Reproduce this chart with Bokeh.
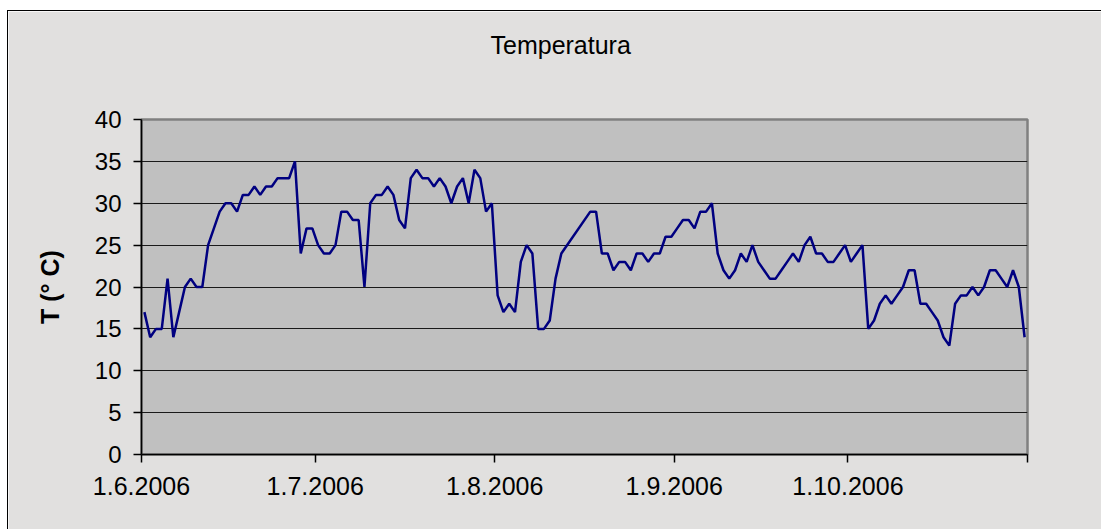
from bokeh.plotting import figure
from bokeh.models import FixedTicker, ColumnDataSource, Title
from bokeh.embed import file_html
from bokeh.resources import INLINE

# Day offset from 1.6.2006 for each reading, and the temperature (°C)
days = [0, 1, 2, 3, 4, 5, 6, 7, 8, 9, 10, 11, 12, 13, 14, 15, 16, 17, 18, 19,
        20, 21, 22, 23, 24, 25, 26, 27, 28, 29, 30, 31, 32, 33, 34, 35, 36, 37, 38, 39,
        40, 41, 42, 43, 44, 45, 46, 47, 48, 49, 50, 51, 52, 53, 54, 55, 56, 57, 58, 59,
        60, 61, 62, 63, 64, 65, 66, 67, 68, 69, 70, 71, 72, 77, 78, 79,
        80, 81, 82, 83, 84, 85, 86, 87, 88, 89, 90, 91, 92, 93, 94, 95, 96, 97, 98, 99,
        100, 101, 102, 103, 104, 105, 106, 107, 108, 109, 110, 111, 112, 113, 114, 115, 116, 117, 118, 119,
        120, 121, 122, 123, 124, 125, 126, 127, 128, 129, 130, 131, 132, 133, 134, 135, 136, 137, 138, 139,
        140, 141, 142, 143, 144, 145, 146, 147, 148, 149, 150, 151, 152]
temps = [17, 14, 15, 15, 21, 14, 17, 20, 21, 20, 20, 25, 27, 29, 30, 30, 29, 31, 31, 32,
         31, 32, 32, 33, 33, 33, 35, 24, 27, 27, 25, 24, 24, 25, 29, 29, 28, 28, 20, 30,
         31, 31, 32, 31, 28, 27, 33, 34, 33, 33, 32, 33, 32, 30, 32, 33, 30, 34, 33, 29,
         30, 19, 17, 18, 17, 23, 25, 24, 15, 15, 16, 21, 24, 29, 29, 24,
         24, 22, 23, 23, 22, 24, 24, 23, 24, 24, 26, 26, 27, 28, 28, 27, 29, 29, 30, 24,
         22, 21, 22, 24, 23, 25, 23, 22, 21, 21, 22, 23, 24, 23, 25, 26, 24, 24, 23, 23,
         24, 25, 23, 24, 25, 15, 16, 18, 19, 18, 19, 20, 22, 22, 18, 18, 17, 16, 14, 13,
         18, 19, 19, 20, 19, 20, 22, 22, 21, 20, 22, 20, 14]

tick_days = [0, 30, 61, 92, 122, 153]
tick_labels = ["1.6.2006", "1.7.2006", "1.8.2006", "1.9.2006", "1.10.2006", ""]
y_ticks = [0, 5, 10, 15, 20, 25, 30, 35, 40]

title_text = "Temperatura"
y_title = "T (° C)"

FONT = "Liberation Sans"

src = ColumnDataSource(dict(x=[d + 0.5 for d in days], y=temps))

p = figure(title=None, frame_width=886, frame_height=335,
           x_range=(0, 153), y_range=(0, 40),
           output_backend="svg", toolbar_location=None,
           min_border_left=133, min_border_right=74,
           min_border_top=108, min_border_bottom=75)

p.styles = {"margin-top": "10px", "margin-left": "7px",
            "border-left": "1px solid #000", "border-top": "1px solid #000"}

p.background_fill_color = "#C0C0C0"
p.border_fill_color = "#E1E0DF"
p.outline_line_color = "#808080"
p.outline_line_width = 2.5

# empty spacer panel between the frame and the title
p.add_layout(Title(text=" ", text_font=FONT, text_font_size="25px",
                   standoff=26), "above")
p.add_layout(Title(text=title_text, text_font=FONT, text_font_size="25px",
                   text_font_style="normal", text_color="#000000",
                   align="left", offset=349, standoff=10), "above")

p.xgrid.visible = False
p.ygrid.grid_line_color = "#1a1a1a"
p.ygrid.grid_line_width = 1.2
p.ygrid.ticker = FixedTicker(ticks=y_ticks)

xa = p.xaxis[0]
xa.ticker = FixedTicker(ticks=tick_days)
xa.major_label_overrides = {d: lab for d, lab in zip(tick_days, tick_labels)}
xa.major_tick_in = 0
xa.major_tick_out = 8
xa.minor_tick_line_color = None
xa.axis_line_color = "#000000"
xa.axis_line_width = 1.5
xa.major_tick_line_color = "#000000"
xa.major_tick_line_width = 1.5
xa.major_label_text_font = FONT
xa.major_label_text_font_size = "25px"
xa.major_label_text_color = "#000000"
xa.major_label_standoff = 14

ya = p.yaxis[0]
ya.ticker = FixedTicker(ticks=y_ticks)
ya.major_tick_in = 0
ya.major_tick_out = 8
ya.minor_tick_line_color = None
ya.axis_line_color = "#000000"
ya.axis_line_width = 1.5
ya.major_tick_line_color = "#000000"
ya.major_tick_line_width = 1.5
ya.major_label_text_font = FONT
ya.major_label_text_font_size = "24px"
ya.major_label_text_color = "#000000"
ya.major_label_standoff = 12
ya.axis_label = y_title
ya.axis_label_text_font = FONT
ya.axis_label_text_font_size = "25px"
ya.axis_label_text_font_style = "bold"
ya.axis_label_text_color = "#000000"
ya.axis_label_standoff = 28

p.line("x", "y", source=src, line_color="#000080", line_width=2.5)

open("out.html", "w").write(file_html(p, INLINE))
